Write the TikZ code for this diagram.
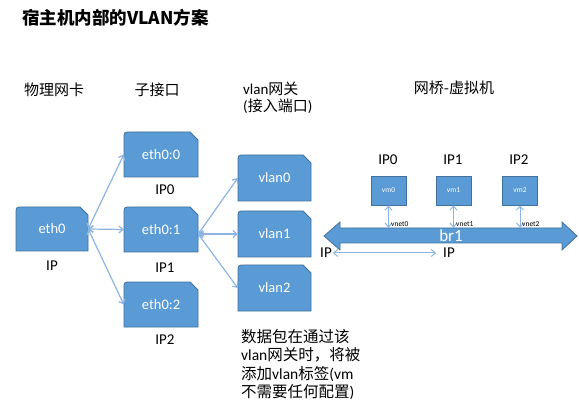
\documentclass[tikz,border=0pt]{standalone}
\usepackage{fontspec}
\setmainfont{Carlito}
\newfontfamily\cjk{Noto Sans CJK SC}
\usetikzlibrary{arrows.meta}
\definecolor{bfill}{HTML}{5B9BD5}
\definecolor{bdr}{HTML}{41719C}
\definecolor{arr}{HTML}{8EB4E3}
\newcommand\zh[1]{{\cjk #1}}
\tikzset{
  boxtext/.style={text=white,font=\fontsize{14.5}{16}\selectfont,inner sep=0pt},
  lbl/.style={font=\fontsize{15}{17}\selectfont,inner sep=1pt},
  conn/.style={arr,line width=1.2pt,{Straight Barb[length=4pt,width=7pt]}-{Straight Barb[length=4pt,width=7pt]}},
  vmbox/.style={fill=bfill,draw=bdr,line width=0.8pt,text=white,font=\fontsize{7.5}{8}\selectfont,minimum width=35pt,minimum height=29pt,inner sep=0pt},
  vnet/.style={font=\fontsize{7.5}{8}\selectfont,inner sep=0pt,anchor=west}
}
\newcommand\snipbox[6]{%
  \filldraw[fill=bfill,draw=bdr,line width=0.8pt] (#2,#5) -- (#2,#3+7) .. controls (#2,#3) .. (#2+7,#3) -- (#4-8,#3) -- (#4,#3+8) -- (#4,#5) -- cycle;
  \node[boxtext,minimum width={#4-#2},minimum height={#5-#3}] (#1) at ({(#2+#4)/2},{(#3+#5)/2}) {#6};
}
\begin{document}
\begin{tikzpicture}[x=1pt,y=-1pt]
\useasboundingbox[fill=white] (0,0) rectangle (579,417);
% title
\node[font=\cjk\bfseries\fontsize{17.5}{20}\selectfont,anchor=west,inner sep=0pt] (title) at (22,18) {宿主机内部的VLAN方案};
% headers
\node[lbl] (h1) at (54,90) {\zh{物理网卡}};
\node[lbl] (h2) at (157,90) {\zh{子接口}};
\node[lbl,anchor=north west,align=left,font=\fontsize{15}{17}\selectfont] (h3) at (242,81) {vlan\zh{网关}\\(\zh{接入端口})};
\node[lbl] (h4) at (454,88) {\zh{网桥-虚拟机}};
% boxes
\snipbox{eth0}{16}{207}{88}{251}{eth0}
\snipbox{e00}{124}{132}{198}{177}{eth0:0}
\snipbox{e01}{124}{207}{198}{252}{eth0:1}
\snipbox{e02}{124}{282}{198}{327}{eth0:2}
\snipbox{v0}{238}{155}{311}{201}{vlan0}
\snipbox{v1}{238}{211}{311}{257}{vlan1}
\snipbox{v2}{238}{265}{311}{311}{vlan2}
% IP labels
\node[lbl] (ip) at (52,266) {IP};
\node[lbl] (ip0) at (165,190) {IP0};
\node[lbl] (ip1) at (165,268) {IP1};
\node[lbl] (ip2) at (165,340) {IP2};
% connectors
\draw[conn] (eth0.east) -- (e00.west);
\draw[conn] (eth0.east) -- (e01.west);
\draw[conn] (eth0.east) -- (e02.west);
\coordinate (s1) at (e01.east |- v1.west);
\draw[conn] (s1) -- (v0.west);
\draw[conn] (s1) -- (v1.west);
\draw[conn] (s1) -- (v2.west);
% bridge
\filldraw[fill=bfill,draw=bdr,line width=0.8pt] (324,236) -- (340,222) -- (340,228) -- (562,228) -- (562,222) -- (577,236) -- (562,250) -- (562,243) -- (340,243) -- (340,250) -- cycle;
\node[text=white,font=\fontsize{17}{17}\selectfont,minimum width=222pt,minimum height=15pt,inner sep=0pt] (br) at (451,235.5) {br1};
% vms
\node[vmbox] (vm0) at (388.5,190.5) {vm0};
\node[vmbox] (vm1) at (453.5,190.5) {vm1};
\node[vmbox] (vm2) at (520,190.5) {vm2};
\node[lbl] (l0) at (388,160) {IP0};
\node[lbl] (l1) at (453,160) {IP1};
\node[lbl] (l2) at (519,160) {IP2};
\draw[conn,line width=1pt] (vm0.south) -- (vm0.south |- br.north);
\draw[conn,line width=1pt] (vm1.south) -- (vm1.south |- br.north);
\draw[conn,line width=1pt] (vm2.south) -- (vm2.south |- br.north);
\node[vnet] (n0) at (391,224) {vnet0};
\node[vnet] (n1) at (456,224) {vnet1};
\node[vnet] (n2) at (522,224) {vnet2};
% IP under bridge
\node[lbl] (ipl) at (326,253) {IP};
\node[lbl] (ipr) at (449,253) {IP};
\draw[conn,line width=1pt,shorten >=6pt] (ipl.east) -- (ipr.west);
% note
\node[anchor=north west,align=left,inner sep=0pt,font=\fontsize{15.5}{18.5}\selectfont] (note) at (241,329) {\zh{数据包在通过该}\\vlan\zh{网关时，将被}\\\zh{添加}vlan\zh{标签}(vm\\\zh{不需要任何配置})};
\end{tikzpicture}
\end{document}
